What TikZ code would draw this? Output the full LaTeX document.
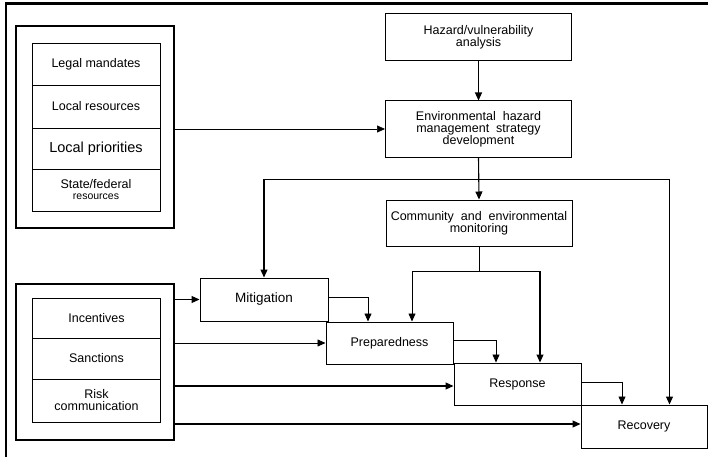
\documentclass[tikz,border=0pt]{standalone}
\usepackage{fontspec}
\setmainfont{Liberation Sans}
\usetikzlibrary{arrows.meta}

\begin{document}
\begin{tikzpicture}[x=1pt,y=-1pt,
    every node/.style={font=\fontsize{12.5}{12}\selectfont, align=center, inner sep=0pt},
    stagebox/.style={draw, line width=1pt, minimum width=127pt, minimum height=42pt},
    planbox/.style={draw, line width=1pt, minimum width=186pt},
    itembox/.style={draw, line width=.8pt, minimum width=128pt},
    grpbox/.style={draw, line width=1.1pt, minimum width=158pt},
    link/.style={line width=1.1pt, -{Triangle[length=8pt,width=7pt]}},
    thinlink/.style={line width=.7pt, -{Triangle[length=8pt,width=7pt]}}]
  \useasboundingbox (0,0) rectangle (708,457);

  % Frame (cut off at right and bottom)
  \draw[line width=1.2pt] (6,457) -- (6,3.5);
  \draw[line width=2.4pt] (5,3.5) -- (708,3.5);

  % Upper input group
  \node[grpbox, minimum height=202pt] (grpA) at (95,127) {};
  \node[itembox, minimum height=42pt] (legal) at (96,64) {Legal mandates};
  \node[itembox, minimum height=43pt] (locres) at (96,106.5) {Local resources};
  \node[itembox, minimum height=41pt, font=\fontsize{14.5}{14.5}\selectfont] (locpri) at (96,148.5) {Local priorities};
  \node[itembox, minimum height=42pt] (statefed) at (96,190) {State/federal\\[-1pt]{\fontsize{10.5}{10.5}\selectfont resources}};

  % Lower input group
  \node[grpbox, minimum height=156pt] (grpB) at (95,362) {};
  \node[itembox, minimum height=40pt] (incent) at (96.5,318) {Incentives};
  \node[itembox, minimum height=41pt] (sanct) at (96.5,358.5) {Sanctions};
  \node[itembox, minimum height=43pt] (riskcom) at (96.5,400.5) {Risk\\communication};

  % Planning boxes
  \node[planbox, minimum height=47pt] (hazard) at (478.5,37.5) {Hazard/vulnerability\\analysis};
  \node[planbox, minimum height=56pt] (envstrat) at (478.5,129) {Environmental\ \ hazard\\management\ \ strategy\\development};
  \node[planbox, minimum height=46pt] (monitor) at (479,223) {Community\ \ and\ \ environmental\\monitoring};

  % Stages
  \node[stagebox, minimum width=128pt, minimum height=43pt, font=\fontsize{13.5}{13.5}\selectfont] (mitig) at (264,299.5) {Mitigation};
  \node[stagebox] (prepare) at (389.5,343) {Preparedness};
  \node[stagebox] (respond) at (517.5,384) {Response};
  \node[stagebox, minimum width=126pt, minimum height=43pt] (recover) at (644,426.5) {Recovery};

  % Planning flow
  \draw[link] (hazard) -- (envstrat);
  \draw[thinlink] (grpA.east |- envstrat.west) -- (envstrat.west);
  \draw[link] (envstrat.south) -- (monitor.north);
  \coordinate (split) at ([yshift=-22pt]envstrat.south);
  \draw[link] (split) -| (mitig.north);
  \draw[link] (split) -| ([xshift=25.5pt]recover.north);

  % Monitoring feeds preparedness and response
  \coordinate (fork) at ([yshift=-25pt]monitor.south);
  \draw[thinlink] (monitor.south) -- (fork) -| ([xshift=22.5pt]prepare.north);
  \draw[link] (fork) -| ([xshift=22.5pt]respond.north);

  % Stage to stage
  \draw[thinlink] ([yshift=2.5pt]mitig.east) -| ([xshift=-21.5pt]prepare.north);
  \draw[thinlink] ([yshift=3pt]prepare.east) -| ([xshift=-21.5pt]respond.north);
  \draw[thinlink] ([yshift=2pt]respond.east) -| ([xshift=-22pt]recover.north);

  % Lower group to stages
  \draw[link] (grpB.east |- mitig.west) -- (mitig.west);
  \draw[thinlink] (grpB.east |- prepare.west) -- (prepare.west);
  \draw[link] ([yshift=-2pt]grpB.east |- respond.west) -- ([yshift=-2pt]respond.west);
  \draw[link] ([yshift=2.5pt]grpB.east |- recover.west) -- ([yshift=2.5pt]recover.west);
\end{tikzpicture}
\end{document}
